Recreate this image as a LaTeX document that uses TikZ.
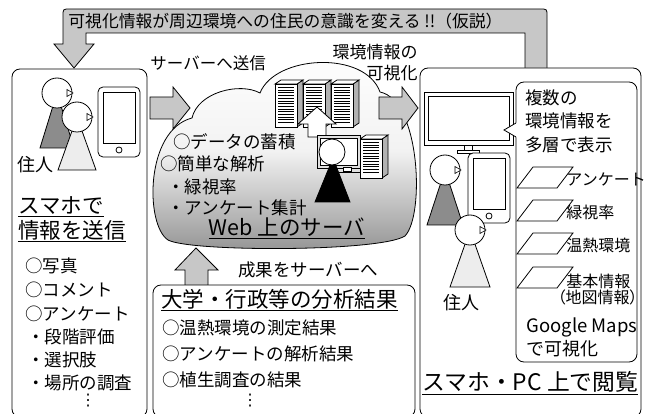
\documentclass[tikz,border=0pt]{standalone}
\usepackage{fontspec}
\setmainfont{Noto Sans CJK JP}
\newfontfamily\jpprop{Noto Sans CJK JP}[RawFeature=+palt]
\newfontfamily\dotsfont{DejaVu Sans}
\usetikzlibrary{calc}

\tikzset{
  lbl/.style={anchor=west, inner sep=0pt, font=\fontsize{17.5}{20}\selectfont},
  small/.style={anchor=west, inner sep=0pt, font=\fontsize{16}{18}\selectfont},
  ttl/.style={anchor=west, inner sep=0pt, font=\fontsize{21.5}{24}\selectfont},
  panel/.style={draw, fill=white, rounded corners=8pt},
  blockarrow/.style={draw, fill=black!22},
  layer/.style={draw, fill=white},
  % a resident: body triangle, round head, small triangle for the face
  pics/resident/.style args={#1/#2/#3}{code={
    \draw[fill=#1] (0,0) -- (-#3,#2) -- (#3,#2) -- cycle;
    \draw[fill=white] (0,0) circle[radius=15pt];
    \draw[fill=white, line width=0.6pt] (10,-3.5) -- (16,0) -- (10,3.5) -- cycle;
  }},
  % a smartphone, 42 x 70
  pics/phone/.style={code={
    \draw[fill=white, rounded corners=5pt] (0,0) rectangle (42,70);
    \draw (5,5) rectangle (37,56);
    \draw (21,63) circle[radius=3pt];
  }},
  % a server rack of height #1
  pics/rack/.style={code={
    \draw[fill=black!30] (22,0) -- (28,-4) -- (28,#1-4) -- (22,#1) -- cycle;
    \draw[fill=white] (0,0) -- (6,-4) -- (28,-4) -- (22,0) -- cycle;
    \draw[fill=white] (0,0) rectangle (22,#1);
    \pgfmathsetmacro\rackend{#1-3.5}
    \foreach \yy in {3.5,6.2,...,\rackend}
      \draw[line width=0.9pt] (3,\yy) -- (19,\yy);
  }}
}

\begin{document}
\begin{tikzpicture}[x=1pt, y=-1pt, line width=0.8pt]
\useasboundingbox (0,0) rectangle (645,414);

% feedback loop banner
\draw[blockarrow] (74,68) -- (94,44) -- (86,44) -- (86,33) -- (525,33) -- (525,72) -- (547,72)
  -- (547,16) .. controls (547,9) .. (540,9) -- (70,9) .. controls (63,9) .. (63,16)
  -- (63,44) -- (54,44) -- cycle;
\node[anchor=west, inner sep=0pt, font=\fontsize{16.8}{20}\selectfont] (banner) at (68,21)
  {可視化情報が周辺環境への住民の意識を変える !!（仮説）};

% ---------------- left panel: residents sending data
\draw[panel] (12,69) rectangle (147,417);
\pic at (57,93) {resident={black!45/55/17}};
\pic at (77,117) {resident={black!7/53/19}};
\pic at (98,87) {phone};
\node[lbl, font=\fontsize{18}{20}\selectfont] (res1) at (17,165) {住人};
\node[ttl] (send1) at (18,207) {\underline{スマホで}};
\node[ttl] (send2) at (18,231) {\underline{情報を送信}};
\node[lbl] (l1) at (25,266) {○写真};
\node[lbl] (l2) at (25,290) {○コメント};
\node[lbl] (l3) at (25,314) {○アンケート};
\node[lbl] (l4) at (27,337) {・段階評価};
\node[lbl] (l5) at (27,360) {・選択肢};
\node[lbl] (l6) at (27,383) {・場所の調査};
\node[anchor=center, inner sep=0pt, font=\dotsfont\fontsize{16}{18}\selectfont] (ldots) at (88,401) {⋮};

% ---------------- center: the web server cloud
\shade[top color=white, bottom color=black!42, middle color=black!5]
  (168,240) .. controls (145,225) and (145,130) .. (192,118)
  .. controls (198,92) and (240,82) .. (260,93)
  .. controls (275,55) and (365,50) .. (380,92)
  .. controls (420,100) and (425,215) .. (405,236)
  .. controls (380,252) and (190,252) .. (168,240) -- cycle;
\draw
  (168,240) .. controls (145,225) and (145,130) .. (192,118)
  .. controls (198,92) and (240,82) .. (260,93)
  .. controls (275,55) and (365,50) .. (380,92)
  .. controls (420,100) and (425,215) .. (405,236)
  .. controls (380,252) and (190,252) .. (168,240) -- cycle;

\node[lbl] (c1) at (173,142) {○データの蓄積};
\node[lbl] (c2) at (160,164) {○簡単な解析};
\node[lbl] (c3) at (167,187) {・緑視率};
\node[lbl] (c4) at (167,208) {・アンケート集計};
\node[anchor=center, inner sep=0pt, font=\fontsize{21.5}{24}\selectfont] (web) at (287,228) {\underline{Web 上のサーバ}};

% server racks and the operator
\pic at (275,84) {rack=43};
\pic at (303,84) {rack=43};
\pic at (331,84) {rack=43};
\draw[fill=white] (317,107) -- (298,124) -- (308,124) -- (308,137) -- (326,137) -- (326,124) -- (336,124) -- cycle;
\pic at (360,139) {rack=39};
\draw[fill=black!12] (317,135) rectangle (360,168);
\draw[fill=white] (320,138) rectangle (357,165);
\draw[fill=white, line width=0.6pt] (343,167) rectangle (351,171);
\draw (339,172) -- (360,172);
\draw[fill=black] (333,158) -- (315,202) -- (350,202) -- cycle;
\draw[fill=white] (332,152) circle[radius=13pt];

% transfer arrows
\draw[blockarrow] (150,97) -- (173,97) -- (173,87) -- (190,108) -- (173,129) -- (173,119) -- (150,119) -- cycle;
\node[anchor=west, inner sep=0pt, font=\fontsize{16.5}{20}\selectfont] (toserver) at (150,63) {サーバーへ送信};
\draw[blockarrow] (379,97) -- (402,97) -- (402,87) -- (418,108) -- (402,129) -- (402,119) -- (379,119) -- cycle;
\node[anchor=east, inner sep=0pt, font=\fontsize{17}{20}\selectfont] (vis1) at (418,52) {環境情報の};
\node[anchor=east, inner sep=0pt, font=\fontsize{17}{20}\selectfont] (vis2) at (418,73) {可視化};
\draw[blockarrow] (196,248) -- (218,270) -- (208,270) -- (208,286) -- (185,286) -- (185,270) -- (175,270) -- cycle;
\node[lbl] (results) at (238,270) {成果をサーバーへ};

% ---------------- bottom: analyses by universities and administration
\draw[panel] (153,285) rectangle (415,417);
\node[ttl] (uni) at (161,300) {\underline{大学・行政等の分析結果}};
\node[lbl] (u1) at (162,328) {○温熱環境の測定結果};
\node[lbl] (u2) at (162,354) {○アンケートの解析結果};
\node[lbl] (u3) at (162,380) {○植生調査の結果};
\node[anchor=center, inner sep=0pt, font=\dotsfont\fontsize{16}{18}\selectfont] (udots) at (250,401) {⋮};

% ---------------- right panel: browsing on phone and PC
\draw[panel] (420,68) rectangle (641,417);
\draw[fill=white] (424,92) rectangle (513,145);
\draw (428,96) rectangle (509,140);
\draw[fill=white] (464,145) rectangle (472,150);
\draw[fill=white] (457,150) rectangle (479,153);
\pic at (468,153) {phone};
\pic at (445,170) {resident={black!45/55/18}};
\pic at (470,230) {resident={black!7/57/20}};
\node[lbl, font=\fontsize{18}{20}\selectfont] (res2) at (443,303) {住人};

% callout with the map layers
\draw[panel] (516,82) rectangle (637,362);
\fill[white] (517,122.5) -- (504,130) -- (517,137.5) -- cycle;
\draw (516,123) -- (504,130) -- (516,137);
\node[lbl, font=\fontsize{17.5}{20}\selectfont] (m1) at (525,98) {複数の};
\node[lbl, font=\fontsize{17.5}{20}\selectfont] (m2) at (525,121) {環境情報を};
\node[lbl, font=\fontsize{17.5}{20}\selectfont] (m3) at (525,145) {多層で表示};
\foreach \t/\name in {167/L1, 200/L2, 233/L3, 267/L4}
  \draw[layer] (517,\t+21) -- (557,\t+21) -- (573,\t) -- (533,\t) -- cycle;
\node[small] (k1) at (566,179) {アンケート};
\node[small] (k2) at (566,212) {緑視率};
\node[small] (k3) at (566,245) {温熱環境};
\node[small] (k4) at (566,281) {基本情報};
\node[anchor=east, inner sep=0pt, font=\jpprop\fontsize{16}{18}\selectfont] (k5) at (638,297) {（地図情報）};
\node[lbl, font=\fontsize{18.5}{20}\selectfont] (g1) at (526,327) {Google Maps};
\node[lbl, font=\fontsize{18}{20}\selectfont] (g2) at (526,349) {で可視化};
\node[anchor=west, inner sep=0pt, font=\fontsize{22.8}{24}\selectfont] (view) at (422,383) {\underline{スマホ・PC 上で閲覧}};
\end{tikzpicture}
\end{document}
